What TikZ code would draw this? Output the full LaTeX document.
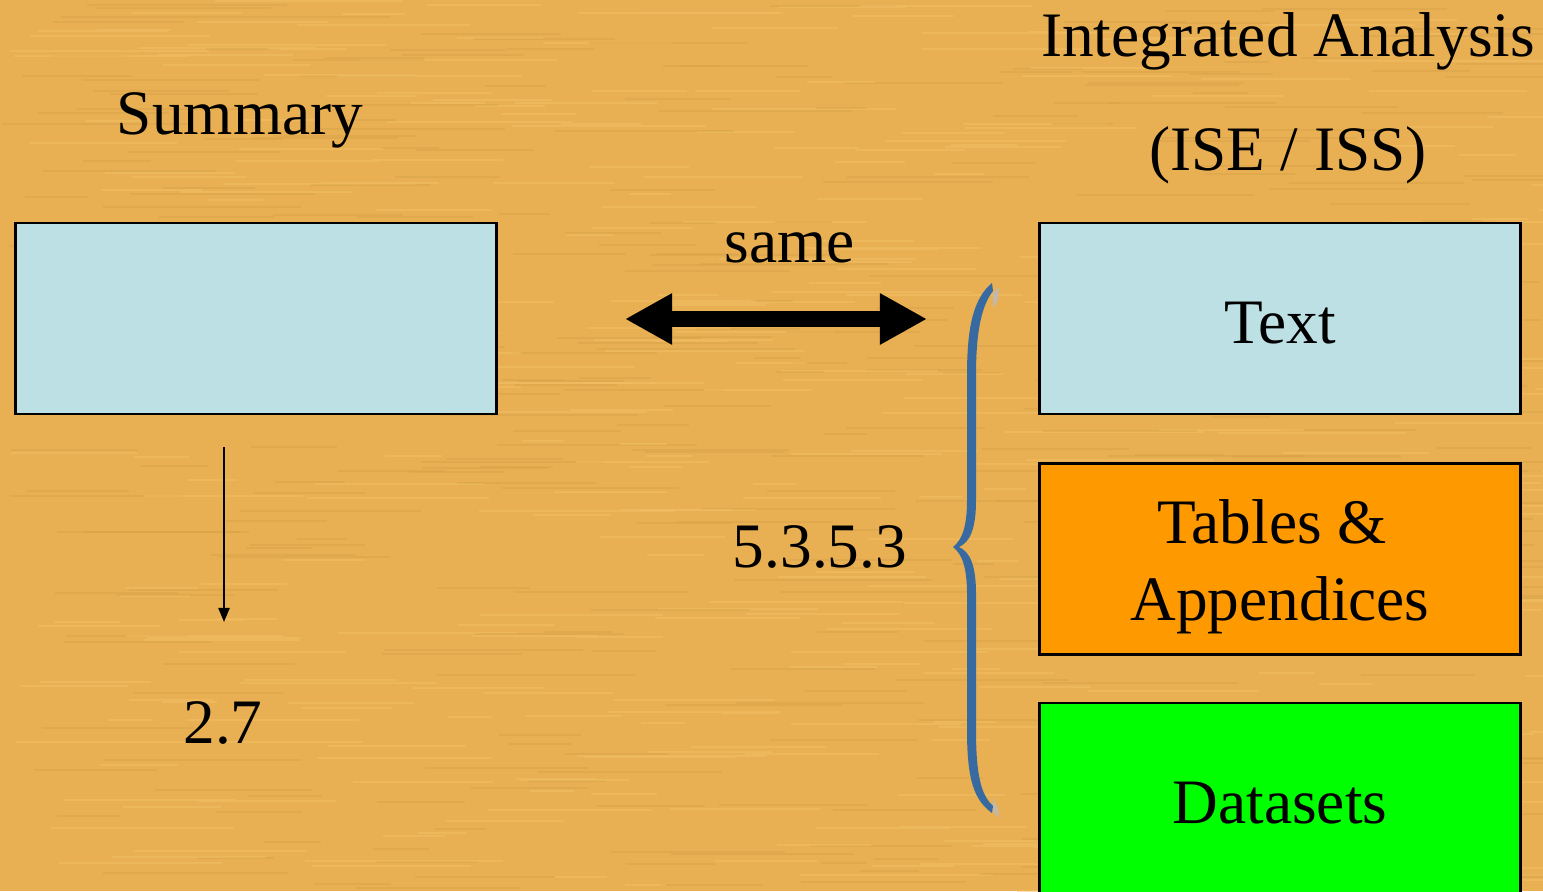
\documentclass[tikz,border=0pt]{standalone}
\usepackage{fontspec}
\setmainfont{Liberation Serif}
\usetikzlibrary{arrows.meta}
\definecolor{woodorange}{RGB}{232,176,82}
\definecolor{woodlight}{RGB}{242,190,100}
\definecolor{wooddark}{RGB}{214,158,70}
\definecolor{paleblue}{RGB}{188,224,228}
\definecolor{tableorange}{RGB}{255,153,0}
\definecolor{datagreen}{RGB}{0,255,0}
\definecolor{braceblue}{RGB}{56,106,162}
\definecolor{braceshade}{RGB}{196,184,168}
\newcommand{\bigtext}{\fontsize{18}{21.8}\selectfont}
\tikzset{
  box/.style = {draw, line width=0.8pt, minimum width=4.8cm, minimum height=1.91cm,
    inner sep=0pt, align=center, font=\bigtext},
  plaintext/.style = {inner sep=0pt, anchor=base, font=\bigtext},
}

\begin{document}
\begin{tikzpicture}[x=0.01cm,y=-0.01cm]
  % background
  \fill[woodorange] (0,0) rectangle (1543,891);
  \useasboundingbox (0,0) rectangle (1543,891);
  \clip (0,0) rectangle (1543,891);
  \pgfmathsetseed{42}
  \foreach \i in {1,...,360} {%
    \pgfmathsetmacro{\sx}{rnd*1543}
    \pgfmathsetmacro{\sy}{rnd*891}
    \pgfmathsetmacro{\sl}{40+rnd*160}
    \draw[woodlight, opacity=0.5, line width=0.02cm] (\sx,\sy) -- ++(\sl,0);
    \draw[wooddark, opacity=0.35, line width=0.02cm] (\sy*1.7,\sx*0.577) -- ++(\sl,0);
  }
  % headings
  \node[plaintext] (summary) at (240,135) {Summary};
  \node[plaintext] (integrated) at (1288,57) {Integrated Analysis};
  \node[plaintext] (isess) at (1288,170) {(ISE / ISS)};
  % boxes
  \node[box, fill=paleblue] (summarybox) at (256,318.5) {};
  \node[box, fill=paleblue, text height=0.49cm, text depth=0pt] (textbox) at (1280,318.5) {Text};
  \node[box, fill=tableorange, text height=1.36cm, text depth=0.14cm] (tablesbox) at (1280,559) {Tables \&\hspace*{0.25em}\\Appendices};
  \node[box, fill=datagreen, text height=0.49cm, text depth=0pt] (datasetsbox) at (1280,798.5) {Datasets};
  % same
  \node[plaintext] (same) at (790,262) {same};
  \coordinate (sameleft) at (625,319);
  \coordinate (sameright) at (927,319);
  \draw[line width=0.16cm, {Triangle[length=0.47cm,width=0.48cm]}-{Triangle[length=0.47cm,width=0.48cm]}] (sameleft) -- (sameright);
  % summary section
  \coordinate (downtop) at (224,447);
  \coordinate (downend) at (224,622);
  \draw[line width=0.6pt, -{Triangle[length=1.4mm,width=1.1mm]}] (downtop) -- (downend);
  \node[plaintext] (sectionsum) at (223,743) {2.7};
  % integrated section
  \node[plaintext] (section) at (820,567) {5.3.5.3};
  \fill[braceshade] (993,293) -- (999,287) -- (998,300) -- (993,308) -- cycle;
  \fill[braceshade] (993,798) -- (998,808) -- (999,818) -- (993,812) -- cycle;
  \fill[braceblue] (992,283) .. controls (974,298) and (967,325) .. (967,375) -- (967,500)
    .. controls (967,527) and (962,540) .. (953,547)
    .. controls (962,554) and (967,567) .. (967,594) -- (967,730)
    .. controls (967,780) and (974,800) .. (992,813) -- (993,806)
    .. controls (981,795) and (976,775) .. (976,730) -- (976,594)
    .. controls (976,565) and (970,552) .. (959,547)
    .. controls (970,542) and (976,529) .. (976,500) -- (976,375)
    .. controls (976,330) and (982,305) .. (993,291) -- cycle;
\end{tikzpicture}
\end{document}
